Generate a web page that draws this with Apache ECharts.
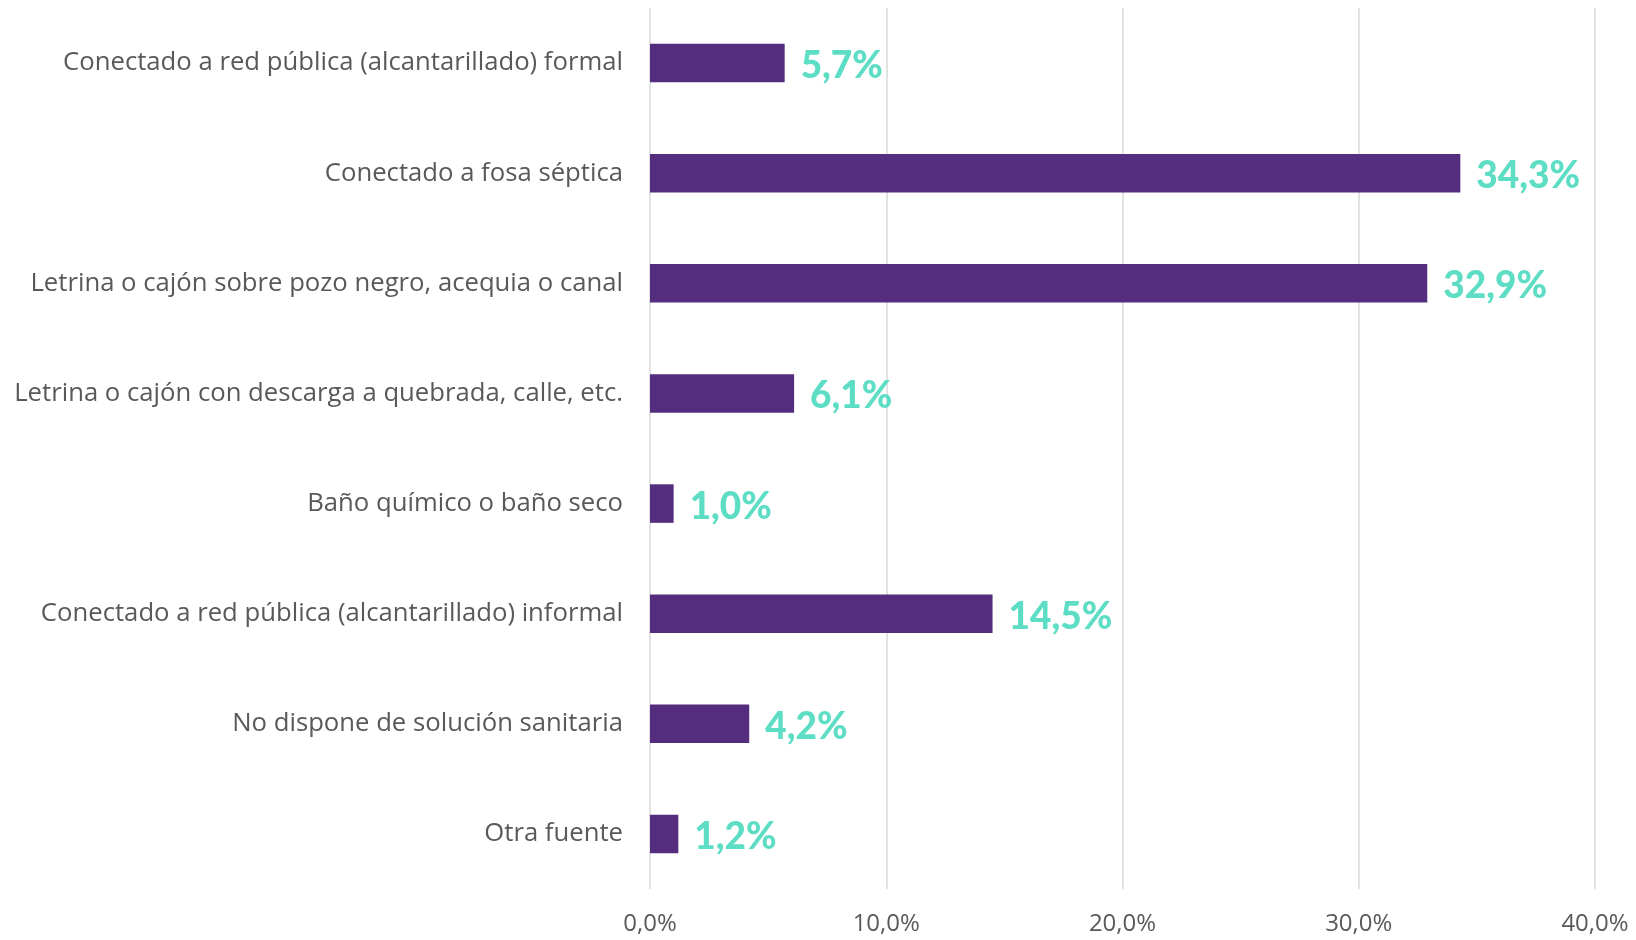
<!DOCTYPE html>
<html>
<head>
<meta charset="utf-8">
<script src="https://cdn.jsdelivr.net/npm/echarts@6/dist/echarts.min.js"></script>
<style>
html,body{margin:0;padding:0;background:#fff;}
#chart{width:1636px;height:940px;}
</style>
</head>
<body>
<div id="chart"></div>
<script>
const categories = [
  "Conectado a red pública (alcantarillado) formal",
  "Conectado a fosa séptica",
  "Letrina o cajón sobre pozo negro, acequia o canal",
  "Letrina o cajón con descarga a quebrada, calle, etc.",
  "Baño químico o baño seco",
  "Conectado a red pública (alcantarillado) informal",
  "No dispone de solución sanitaria",
  "Otra fuente"
];
const values = [5.7, 34.3, 32.9, 6.1, 1.0, 14.5, 4.2, 1.2];
const axisMin = 0, axisMax = 40, axisStep = 10;

const fmt = v => Number(v).toFixed(1).replace('.', ',') + '%';

const chart = echarts.init(document.getElementById('chart'), null, {renderer: 'canvas'});
chart.setOption({
  animation: false,
  backgroundColor: '#ffffff',
  grid: {left: 650, right: 41, top: 8, bottom: 51, containLabel: false},
  xAxis: {
    type: 'value', min: axisMin, max: axisMax, interval: axisStep,
    axisLine: {show: false}, axisTick: {show: false},
    splitLine: {show: true, lineStyle: {color: '#D9D9D9', width: 1.5}},
    axisLabel: {formatter: v => fmt(v), color: '#595959', fontFamily: 'Open Sans', fontSize: 24, margin: 23}
  },
  yAxis: {
    type: 'category', data: categories, inverse: true,
    axisLine: {show: false}, axisTick: {show: false},
    axisLabel: {color: '#595959', fontFamily: 'Open Sans', fontSize: 25.7, margin: 27}
  },
  series: [{
    type: 'bar', data: values, barWidth: '35%',
    itemStyle: {color: '#552D7E'},
    label: {
      show: true, position: 'right', distance: 16, offset: [0, 3],
      formatter: p => fmt(p.value),
      color: '#5DDEC4', fontFamily: 'Lato', fontWeight: 900, fontSize: 37
    }
  }]
});
</script>
</body>
</html>
